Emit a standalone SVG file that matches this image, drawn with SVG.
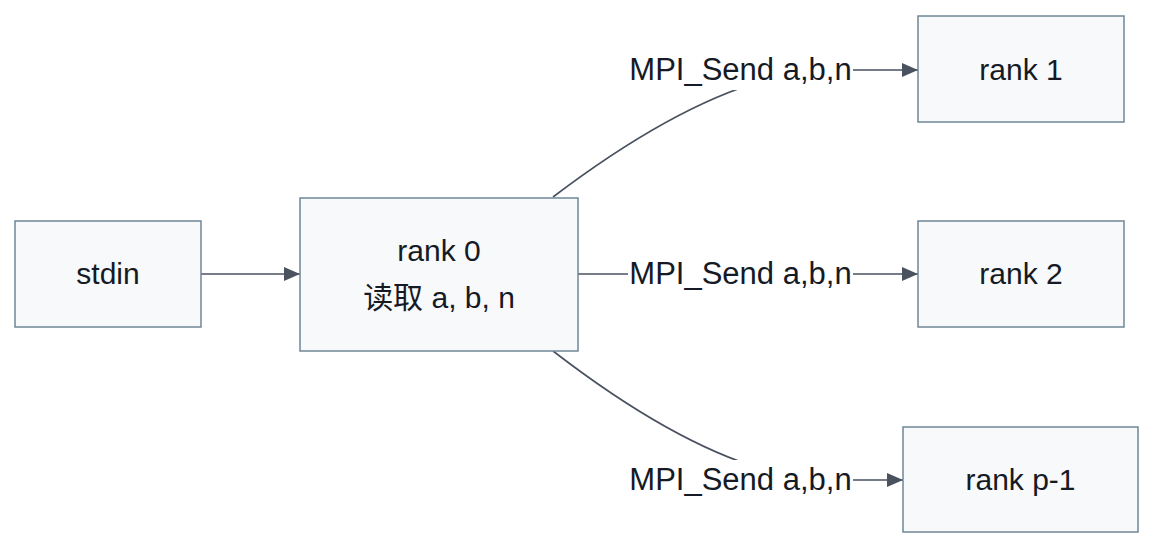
<svg xmlns="http://www.w3.org/2000/svg" width="1170" height="556" viewBox="0 0 1170 556">
<style>
.node rect{fill:#f7f9fb;stroke:#6f8797;stroke-width:1.5}
.node text{font-family:"Liberation Sans",Arial,"Noto Sans CJK SC",sans-serif;font-size:30px;fill:#151a24;text-anchor:middle}
.edge{fill:none;stroke:#4a5260;stroke-width:1.6}
.lbl rect{fill:#ffffff}
.lbl text{font-family:"Liberation Sans",Arial,sans-serif;font-size:31px;fill:#151a24;text-anchor:middle}
</style>
<defs>
<marker id="arrow" viewBox="0 0 16 14" refX="16" refY="7" markerWidth="16" markerHeight="14" markerUnits="userSpaceOnUse" orient="auto">
<path d="M0,0 L16,7 L0,14 z" fill="#4a5260"/>
</marker>
</defs>
<rect width="1170" height="556" fill="#ffffff"/>
<g id="connectors">
<path class="edge" d="M201,274 L300,274" marker-end="url(#arrow)"/>
<path class="edge" d="M553,197 Q710,78 820,70 L918,70" marker-end="url(#arrow)"/>
<path class="edge" d="M578,274 L918,274" marker-end="url(#arrow)"/>
<path class="edge" d="M553,351 Q710,472 820,480 L903,480" marker-end="url(#arrow)"/>
<g class="lbl">
<rect x="628" y="52" width="225" height="38"/>
<text x="740.5" y="80">MPI_Send a,b,n</text>
<rect x="628" y="256" width="225" height="38"/>
<text x="740.5" y="284">MPI_Send a,b,n</text>
<rect x="628" y="460" width="225" height="38"/>
<text x="740.5" y="490">MPI_Send a,b,n</text>
</g>
</g>
<g id="stdin" class="node">
<rect x="15" y="221" width="186" height="106"/>
<text x="108" y="284">stdin</text>
</g>
<g id="rank0" class="node">
<rect x="300" y="198" width="278" height="153"/>
<text x="439" y="261">rank 0</text>
<text x="439" y="308">读取 a, b, n</text>
</g>
<g id="rank1" class="node">
<rect x="918" y="16" width="206" height="106"/>
<text x="1021" y="80">rank 1</text>
</g>
<g id="rank2" class="node">
<rect x="918" y="221" width="206" height="106"/>
<text x="1021" y="284">rank 2</text>
</g>
<g id="rankp1" class="node">
<rect x="903" y="427" width="235" height="105"/>
<text x="1020.5" y="490">rank p-1</text>
</g>
</svg>
